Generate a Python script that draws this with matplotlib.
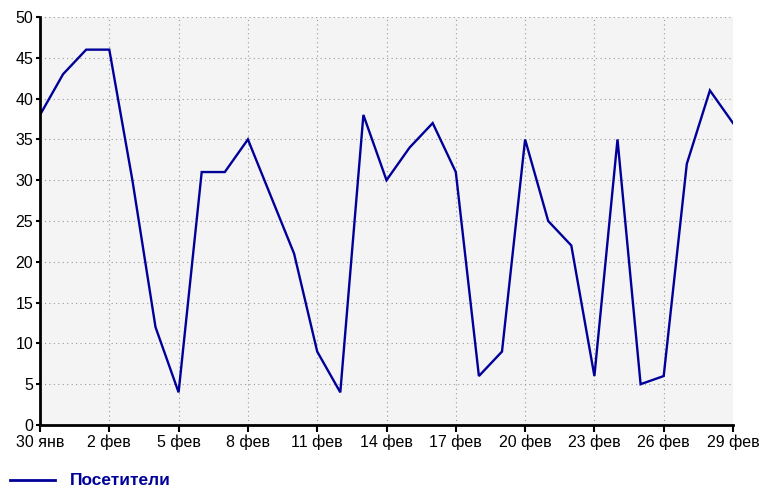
import matplotlib
matplotlib.use("Agg")
import matplotlib.pyplot as plt
from matplotlib.lines import Line2D

days = list(range(31))
visitors = [38, 43, 46, 46, 30, 12, 4, 31, 31, 35, 28, 21, 9, 4, 38, 30, 34, 37, 31, 6, 9, 35, 25, 22, 6, 35, 5, 6, 32, 41, 37]
tick_pos = list(range(0, 31, 3))
tick_labels = ["30 янв", "2 фев", "5 фев", "8 фев", "11 фев", "14 фев", "17 фев",
               "20 фев", "23 фев", "26 фев", "29 фев"]
yticks = list(range(0, 51, 5))
series_name = "Посетители"

plt.rcParams['font.family'] = ['Liberation Sans', 'DejaVu Sans']
line_color = '#000099'

fig = plt.figure(figsize=(7.6, 4.9), dpi=100)
ax = fig.add_axes([40/760, 65/490, 693/760, 408/490])
ax.set_facecolor('#f4f4f4')
ax.plot(days, visitors, color=line_color, lw=1.7, solid_joinstyle='miter')
ax.set_xlim(0, 30)
ax.set_ylim(0, 50)
ax.set_xticks(tick_pos)
ax.set_xticklabels(tick_labels)
ax.set_yticks(yticks)
ax.grid(True, color='#999999', linestyle=(0, (1, 3)), lw=0.8)
for s in ['top', 'right']:
    ax.spines[s].set_visible(False)
for s in ['left', 'bottom']:
    ax.spines[s].set_linewidth(2)
    ax.spines[s].set_color('black')
ax.tick_params(axis='x', length=5, width=1.5, labelsize=11.5, pad=2, colors='black')
ax.tick_params(axis='y', length=3, width=1.5, labelsize=11.5, pad=2, colors='black')
ax.set_axisbelow(True)

fig.add_artist(Line2D([10/760, 55/760], [1 - 480/490, 1 - 480/490], color=line_color, lw=2))
fig.text(70/760, 1 - 480/490, series_name, color=line_color, fontsize=12.5,
         fontweight='bold', va='center', ha='left')

fig.savefig('out.png', dpi=100)
